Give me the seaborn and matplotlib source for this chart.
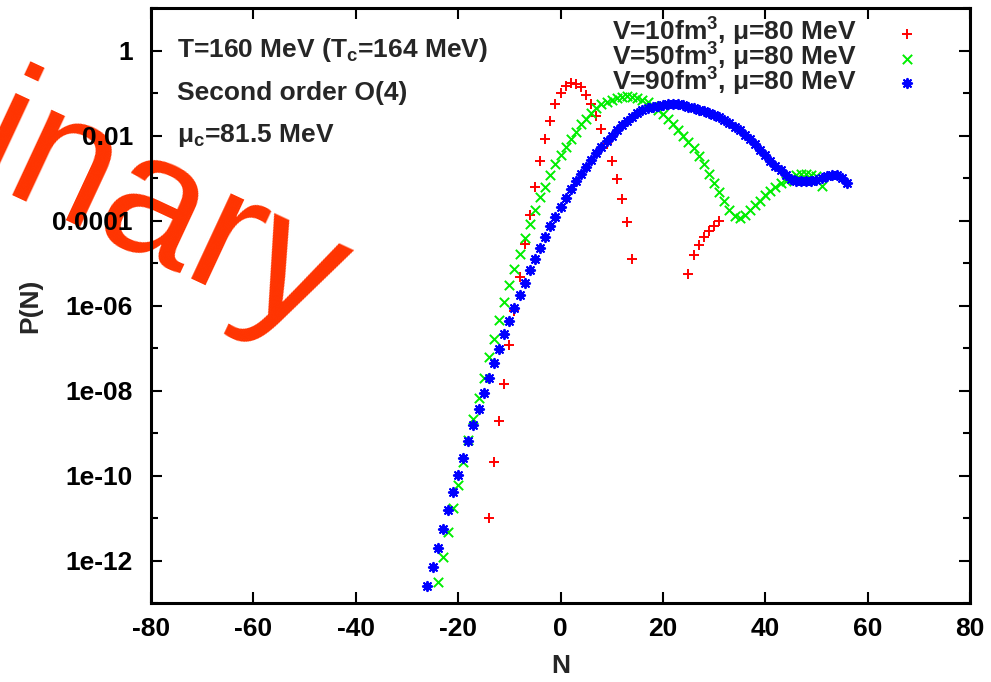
import numpy as np
import pandas as pd
import matplotlib
matplotlib.use('Agg')
import matplotlib.pyplot as plt
import seaborn as sns

# values, log10 P(N) at integer N
n_v10 = list(range(-14, 15)) + list(range(25, 32))
logp_v10 = [-11.01, -9.69, -8.71, -7.84, -6.94, -6.12, -5.34, -4.56, -3.86, -3.22,
            -2.60, -2.09, -1.65, -1.27, -1.00, -0.84, -0.76, -0.78, -0.86, -1.04,
            -1.25, -1.53, -1.84, -2.21, -2.59, -3.02, -3.49, -4.04, -4.90,
            -5.27, -4.82, -4.57, -4.39, -4.24, -4.12, -4.00]

n_v50 = list(range(-24, 52))
logp_v50 = [-12.51, -11.91, -11.33, -10.77, -10.22, -9.69, -9.16, -8.66, -8.17, -7.70,
            -7.22, -6.78, -6.35, -5.92, -5.51, -5.15, -4.78, -4.41, -4.08, -3.76,
            -3.45, -3.20, -2.94, -2.68, -2.45, -2.26, -2.08, -1.91, -1.72, -1.61,
            -1.48, -1.35, -1.25, -1.20, -1.16, -1.12, -1.09, -1.08, -1.09, -1.12,
            -1.16, -1.22, -1.30, -1.40, -1.50, -1.61, -1.73, -1.86, -2.00, -2.15,
            -2.30, -2.48, -2.68, -2.90, -3.12, -3.33, -3.55, -3.76, -3.90, -3.94,
            -3.86, -3.76, -3.63, -3.53, -3.41, -3.31, -3.22, -3.12, -3.08, -3.00,
            -2.94, -2.90, -2.90, -2.92, -2.96, -3.18]

n_v90 = list(range(-26, 57))
logp_v90 = [-12.60, -12.16, -11.70, -11.25, -10.81, -10.39, -9.98, -9.58, -9.19, -8.80,
            -8.43, -8.06, -7.71, -7.36, -7.02, -6.68, -6.37, -6.05, -5.75, -5.47,
            -5.16, -4.90, -4.65, -4.39, -4.14, -3.92, -3.69, -3.47, -3.25, -3.06,
            -2.90, -2.73, -2.57, -2.42, -2.26, -2.12, -2.00, -1.88, -1.76, -1.66,
            -1.57, -1.47, -1.40, -1.35, -1.32, -1.30, -1.28, -1.27, -1.27, -1.27,
            -1.29, -1.32, -1.35, -1.39, -1.43, -1.47, -1.51, -1.57, -1.63, -1.70,
            -1.79, -1.88, -1.98, -2.08, -2.21, -2.34, -2.46, -2.60, -2.71, -2.81,
            -2.92, -3.02, -3.08, -3.08, -3.08, -3.06, -3.04, -3.00, -2.96, -2.92,
            -2.92, -3.00, -3.11]

labels = [r'V=10fm$^3$, μ=80 MeV', r'V=50fm$^3$, μ=80 MeV', r'V=90fm$^3$, μ=80 MeV']
colors = ['#ff0000', '#00ee00', '#0000ff']
markers = ['+', 'x', (8, 2, 0)]

ytick_vals = [1e-12, 1e-10, 1e-08, 1e-06, 1e-04, 1e-02, 1]
ytick_labels = ['1e-12', '1e-10', '1e-08', '1e-06', '0.0001', '0.01', '1']
xtick_vals = [-80, -60, -40, -20, 0, 20, 40, 60, 80]

sns.set_style('ticks')
plt.rcParams['font.family'] = ['Liberation Sans', 'DejaVu Sans']
plt.rcParams['font.weight'] = 'bold'
plt.rcParams['mathtext.fontset'] = 'custom'
plt.rcParams['mathtext.rm'] = 'Liberation Sans:bold'
plt.rcParams['mathtext.it'] = 'Liberation Sans:bold'
plt.rcParams['mathtext.bf'] = 'Liberation Sans:bold'
plt.rcParams['mathtext.sf'] = 'Liberation Sans:bold'
plt.rcParams['mathtext.default'] = 'rm'

fs = 19

fig = plt.figure(figsize=(9.91, 6.82), dpi=100)
ax = fig.add_axes([151 / 991, 1 - 603 / 682, 819 / 991, 595 / 682])
ax.set_facecolor('none')

sets = [(n_v10, logp_v10), (n_v50, logp_v50), (n_v90, logp_v90)]
for (n, lp), lab, c, m in zip(sets, labels, colors, markers):
    df = pd.DataFrame({'N': n, 'P': 10.0 ** np.array(lp)})
    sns.scatterplot(data=df, x='N', y='P', ax=ax, color=c, marker=m, s=45,
                    linewidth=1.4, label=lab, legend=False, zorder=3)

ax.set_yscale('log')
ax.set_xlim(-80, 80)
ax.set_ylim(1e-13, 10)
ax.set_xticks(xtick_vals)
ax.set_xticklabels([str(v) for v in xtick_vals])
ax.set_yticks(ytick_vals)
ax.set_yticklabels(ytick_labels)
ax.set_yticks([1e-13, 1e-11, 1e-09, 1e-07, 1e-05, 1e-03, 1e-01, 10], minor=True)
ax.yaxis.set_minor_formatter(matplotlib.ticker.NullFormatter())
ax.tick_params(which='both', direction='in', top=True, right=True, width=1.5,
               labelsize=fs, colors='black')
ax.tick_params(which='major', length=8)
ax.tick_params(which='minor', length=5)
ax.tick_params(axis='x', pad=10)
ax.tick_params(axis='y', pad=13)
for sp in ax.spines.values():
    sp.set_linewidth(2.2)
    sp.set_color('black')

ax.set_xlabel('N', fontsize=fs, fontweight='bold')
ax.set_ylabel('P(N)', fontsize=fs, fontweight='bold')
ax.xaxis.set_label_coords(0.5, -0.085)
ax.yaxis.set_label_coords(-0.133, 0.5)

ax.text(-75, 1, r'T=160 MeV (T$_c$=164 MeV)', fontsize=fs, fontweight='bold', va='center')
ax.text(-75, 0.1, 'Second order O(4)', fontsize=fs, fontweight='bold', va='center')
ax.text(-75, 0.01, r'μ$_c$=81.5 MeV', fontsize=fs, fontweight='bold', va='center')

ax.legend(loc='upper right', bbox_to_anchor=(920 / 991, 1 - 16 / 682),
          bbox_transform=fig.transFigure, frameon=False, markerfirst=False,
          scatterpoints=1, handlelength=1.0, handletextpad=1.4, labelspacing=-0.28,
          borderpad=0, borderaxespad=0, fontsize=fs)

fig.text(313 / 991, 1 - 342 / 682, 'Preliminary', color='#ff3300', fontsize=128,
         fontweight='normal', rotation=-25, rotation_mode='anchor',
         ha='right', va='baseline', zorder=-1)

fig.savefig('out.png', dpi=100)
